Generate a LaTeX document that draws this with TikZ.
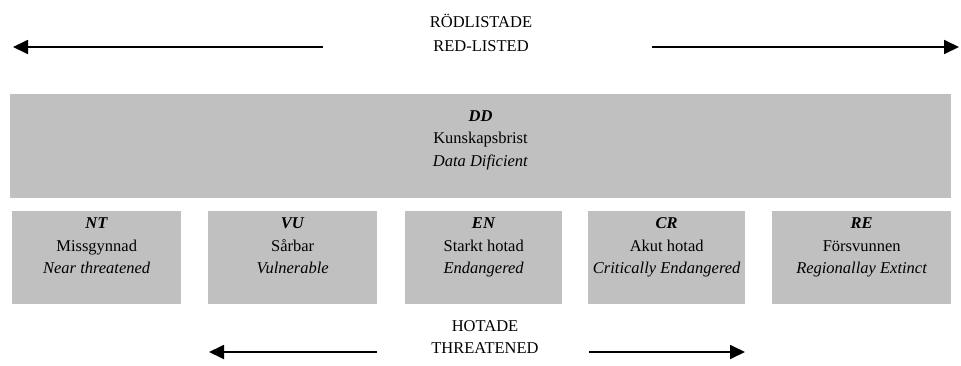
\documentclass[tikz,border=0pt]{standalone}
\usepackage{fontspec}
\setmainfont{Liberation Serif}
\usetikzlibrary{arrows.meta}
\definecolor{boxgray}{HTML}{C0C0C0}
\tikzset{
  catbox/.style={fill=boxgray, draw=none, inner sep=0pt, anchor=north west},
  cattext/.style={anchor=north, inner sep=0pt, align=center, font=\fontsize{16.5}{22.5}\selectfont},
  headtext/.style={anchor=north, inner sep=0pt, align=center},
  bigarrow/.style={line width=1.8pt, -{Triangle[length=15pt,width=14pt]}}
}
\begin{document}
\begin{tikzpicture}[x=1pt,y=-1pt]
\useasboundingbox (0,0) rectangle (961,365);
% header
\node[headtext, font=\fontsize{16.5}{24}\selectfont] (redl) at (481,14) {RÖDLISTADE\\RED-LISTED};
\coordinate (tl1) at (323,47);
\coordinate (tl2) at (13,47);
\coordinate (tr1) at (652,47);
\coordinate (tr2) at (959,47);
\draw[bigarrow] (tl1) -- (tl2);
\draw[bigarrow] (tr1) -- (tr2);
% DD box
\node[catbox, minimum width=941pt, minimum height=104pt] (dd) at (10,94) {};
\node[cattext] (ddt) at (480.5,110) {\textbf{\textit{DD}}\\Kunskapsbrist\\\textit{Data Dificient}};
% category boxes
\node[catbox, minimum width=169pt, minimum height=93pt] (nt) at (12,211) {};
\node[catbox, minimum width=169pt, minimum height=93pt] (vu) at (208,211) {};
\node[catbox, minimum width=157pt, minimum height=93pt] (en) at (405,211) {};
\node[catbox, minimum width=157pt, minimum height=93pt] (cr) at (588,211) {};
\node[catbox, minimum width=179pt, minimum height=93pt] (re) at (772,211) {};
\node[cattext] (ntt) at (nt.north |- 0,217.5) {\textbf{\textit{NT}}\\Missgynnad\\\textit{Near threatened}};
\node[cattext] (vut) at (vu.north |- 0,217.5) {\textbf{\textit{VU}}\\Sårbar\\\textit{Vulnerable}};
\node[cattext] (ent) at (en.north |- 0,217.5) {\textbf{\textit{EN}}\\Starkt hotad\\\textit{Endangered}};
\node[cattext] (crt) at (cr.north |- 0,217.5) {\textbf{\textit{CR}}\\Akut hotad\\\textit{Critically Endangered}};
\node[cattext] (ret) at (re.north |- 0,217.5) {\textbf{\textit{RE}}\\Försvunnen\\\textit{Regionallay Extinct}};
% footer
\node[headtext, font=\fontsize{16.5}{22}\selectfont] (thr) at (485,320.5) {HOTADE\\THREATENED};
\coordinate (bl1) at (377,352);
\coordinate (bl2) at (209,352);
\coordinate (br1) at (589,352);
\coordinate (br2) at (745,352);
\draw[bigarrow] (bl1) -- (bl2);
\draw[bigarrow] (br1) -- (br2);
\end{tikzpicture}
\end{document}
